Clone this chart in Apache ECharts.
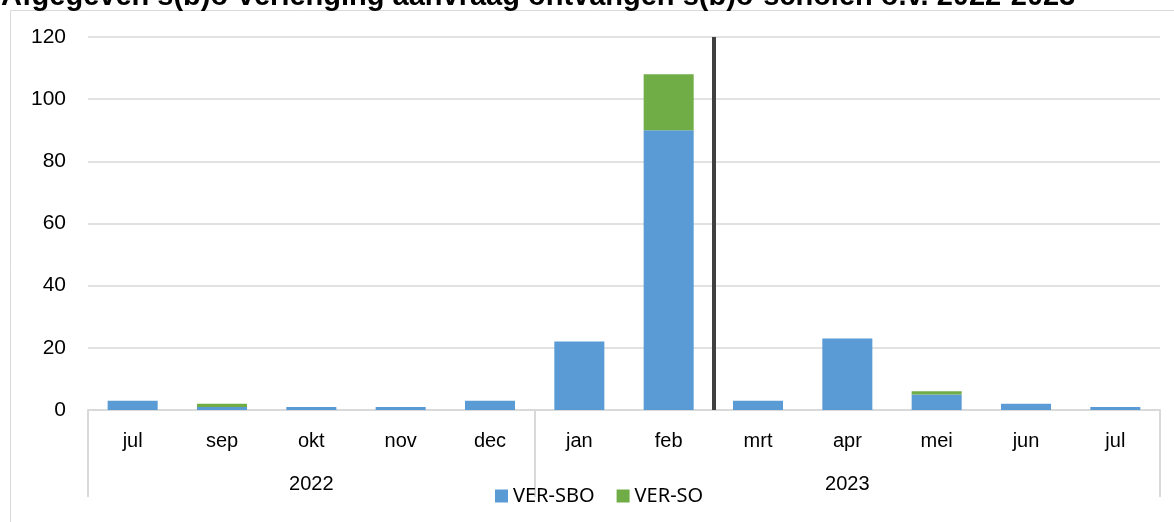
<!DOCTYPE html>
<html>
<head>
<meta charset="utf-8">
<script src="https://cdn.jsdelivr.net/npm/echarts@6/dist/echarts.min.js"></script>
<style>
  html, body { margin: 0; padding: 0; background: #fff; }
  #chart { width: 1174px; height: 522px; }
</style>
</head>
<body>
<div id="chart"></div>
<script>
// months (jul 2022 .. jul 2023), aug is missing in the source
const months = ['jul', 'sep', 'okt', 'nov', 'dec', 'jan', 'feb', 'mrt', 'apr', 'mei', 'jun', 'jul'];
const yearLabels = ['', '', '2022', '', '', '', '', '', '2023', '', '', ''];
const verSbo = [3, 1, 1, 1, 3, 22, 90, 3, 23, 5, 2, 1];
const verSo = [0, 1, 0, 0, 0, 0, 18, 0, 0, 1, 0, 0];
const yearBounds = [0, 5];   // index where a year group starts
const dividerAt = 7;         // black line between feb and mrt

const chart = echarts.init(document.getElementById('chart'));

const axisFont = { fontFamily: 'Liberation Sans', fontSize: 20, color: '#000' };

chart.setOption({
  animation: false,
  title: {
    text: 'Afgegeven s(b)o-verlenging aanvraag ontvangen s(b)o-scholen o.v. 2022-2023',
    left: -4,
    top: -23,
    textStyle: { fontFamily: 'Liberation Sans', fontSize: 29, fontWeight: 'bold', color: '#000' }
  },
  graphic: [{
    type: 'rect',
    shape: { x: 10.5, y: 10.5, width: 1200, height: 600 },
    style: { fill: 'none', stroke: '#d9d9d9', lineWidth: 1 },
    silent: true
  }],
  legend: {
    top: 481,
    left: 490,
    itemWidth: 13,
    itemHeight: 13,
    itemGap: 22,
    icon: 'rect',
    textStyle: { fontFamily: 'Noto Sans', fontSize: 20, color: '#000' },
    data: ['VER-SBO', 'VER-SO']
  },
  grid: { left: 88, right: 14, top: 37, bottom: 112 },
  xAxis: [{
    type: 'category',
    data: months,
    axisLine: { lineStyle: { color: '#d9d9d9', width: 2 } },
    axisTick: {
      show: true,
      length: 87,
      interval: (i) => yearBounds.includes(i) || i === months.length,
      lineStyle: { color: '#d9d9d9', width: 2 }
    },
    axisLabel: Object.assign({ margin: 21, interval: 0 }, axisFont)
  }, {
    type: 'category',
    data: yearLabels,
    position: 'bottom',
    offset: 43,
    axisLine: { show: false },
    axisTick: { show: false },
    axisLabel: Object.assign({ margin: 21, interval: 0 }, axisFont)
  }, {
    type: 'value',
    min: 0,
    max: months.length,
    show: false
  }],
  yAxis: {
    type: 'value',
    min: 0,
    max: 120,
    interval: 20,
    axisLine: { show: false },
    axisTick: { show: false },
    axisLabel: Object.assign({}, axisFont, { margin: 22, fontSize: 21 }),
    splitLine: { lineStyle: { color: '#d9d9d9', width: 1.5 } }
  },
  series: [{
    name: 'VER-SBO',
    type: 'bar',
    stack: 'total',
    data: verSbo,
    barWidth: '56%',
    itemStyle: { color: '#5b9bd5' }
  }, {
    name: 'VER-SO',
    type: 'bar',
    stack: 'total',
    data: verSo,
    itemStyle: { color: '#70ad47' }
  }, {
    type: 'line',
    xAxisIndex: 2,
    data: [],
    markLine: {
      silent: true,
      symbol: 'none',
      label: { show: false },
      lineStyle: { color: '#404040', width: 4, type: 'solid' },
      data: [{ xAxis: dividerAt }]
    }
  }]
});
</script>
</body>
</html>
